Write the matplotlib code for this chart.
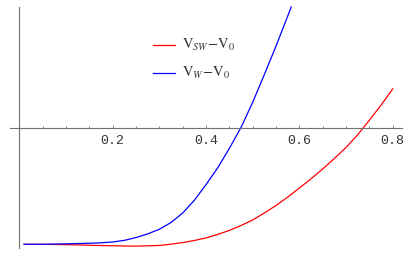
import matplotlib
matplotlib.use("Agg")
import matplotlib.pyplot as plt
from matplotlib.ticker import MultipleLocator
from matplotlib.lines import Line2D

# curves (arbitrary units, flat part = -1)
x_sw = [0.01, 0.05, 0.10, 0.15, 0.20, 0.25, 0.30, 0.325, 0.35, 0.375,
        0.40, 0.425, 0.45, 0.475, 0.50, 0.525, 0.55, 0.575, 0.60, 0.625,
        0.65, 0.675, 0.70, 0.725, 0.75, 0.775, 0.80]
y_sw = [-1.0, -1.0, -1.003, -1.008, -1.013, -1.016, -1.010, -0.999, -0.985, -0.967,
        -0.945, -0.915, -0.880, -0.838, -0.790, -0.730, -0.665, -0.593, -0.515, -0.435,
        -0.350, -0.260, -0.165, -0.055, 0.070, 0.200, 0.340]

x_w = [0.01, 0.05, 0.10, 0.15, 0.175, 0.20, 0.225, 0.25, 0.275, 0.30,
       0.325, 0.35, 0.375, 0.40, 0.425, 0.45, 0.475, 0.50, 0.525, 0.55, 0.5825]
y_w = [-1.0, -1.0, -0.996, -0.991, -0.987, -0.980, -0.966, -0.942, -0.910, -0.870,
       -0.812, -0.730, -0.620, -0.485, -0.340, -0.172, 0.008, 0.225, 0.465, 0.710, 1.046]

xticks = [0.2, 0.4, 0.6, 0.8]
xticklabels = ["0.2", "0.4", "0.6", "0.8"]
labels = [r"$\mathrm{V}_{SW}\!-\!\mathrm{V}_0$", r"$\mathrm{V}_{W}\!-\!\mathrm{V}_0$"]

plt.rcParams["mathtext.fontset"] = "stix"

fig = plt.figure(figsize=(4.15, 2.57), dpi=100)
ax = fig.add_axes([0, 0, 1, 1])
ax.set_xlim(-0.0416, 0.8477)
ax.set_ylim(-1.1095, 1.106)

ax.plot(x_sw, y_sw, color="#ff0000", lw=0.9)
ax.plot(x_w, y_w, color="#0000ff", lw=0.9)

# Mathematica style axes crossing at the origin
for s in ["top", "right"]:
    ax.spines[s].set_visible(False)
ax.spines["left"].set_position(("data", 0))
ax.spines["bottom"].set_position(("data", 0))
ax.spines["left"].set_bounds(-1.032, 1.046)
ax.spines["bottom"].set_bounds(-0.0201, 0.8192)
for s in ["left", "bottom"]:
    ax.spines[s].set_color("#707070")
    ax.spines[s].set_linewidth(0.8)

ax.set_yticks([])
ax.set_xticks(xticks)
ax.set_xticklabels(xticklabels, family="Liberation Mono", fontsize=9.5, color="#333333")
ax.xaxis.set_minor_locator(MultipleLocator(0.05))
ax.tick_params(axis="x", which="major", direction="in", length=2.3, width=0.6,
               color="#707070", pad=4.5)
ax.tick_params(axis="x", which="minor", direction="in", length=1.4, width=0.6,
               color="#707070")

# legend drawn by hand
colors = ["#ff0000", "#0000ff"]
ys = [1 - 45 / 257, 1 - 72.7 / 257]
for lab, c, yy in zip(labels, colors, ys):
    fig.add_artist(Line2D([0.368, 0.4217], [yy, yy], color=c, lw=0.9,
                          transform=fig.transFigure))
    fig.text(0.438, yy, lab, fontsize=10.5, color="#333333", va="center", ha="left")

fig.savefig("out.png", dpi=100)
